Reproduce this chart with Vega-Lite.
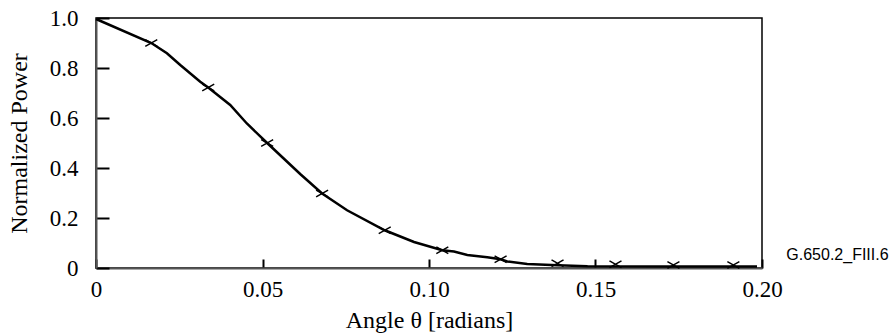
{
  "$schema": "https://vega.github.io/schema/vega-lite/v6.json",
  "width": 666,
  "height": 250,
  "autosize": {"type": "none"},
  "padding": {"left": 96, "top": 18, "right": 127, "bottom": 65},
  "background": "white",
  "config": {
    "view": {"stroke": "#000", "strokeWidth": 1.5},
    "font": "Liberation Serif"
  },
  "datasets": {
    "curve": [
      {"angle": 0, "power": 0.996},
      {"angle": 0.0166, "power": 0.90},
      {"angle": 0.0213, "power": 0.859},
      {"angle": 0.0253, "power": 0.812},
      {"angle": 0.0313, "power": 0.745},
      {"angle": 0.0337, "power": 0.722},
      {"angle": 0.0403, "power": 0.652},
      {"angle": 0.0453, "power": 0.578},
      {"angle": 0.0514, "power": 0.50},
      {"angle": 0.0614, "power": 0.375},
      {"angle": 0.0679, "power": 0.298},
      {"angle": 0.0754, "power": 0.231},
      {"angle": 0.0867, "power": 0.151},
      {"angle": 0.0955, "power": 0.104},
      {"angle": 0.104, "power": 0.071},
      {"angle": 0.1075, "power": 0.066},
      {"angle": 0.1115, "power": 0.052},
      {"angle": 0.1175, "power": 0.043},
      {"angle": 0.1215, "power": 0.035},
      {"angle": 0.1235, "power": 0.026},
      {"angle": 0.1295, "power": 0.016},
      {"angle": 0.1386, "power": 0.011},
      {"angle": 0.1476, "power": 0.007},
      {"angle": 0.17, "power": 0.006},
      {"angle": 0.1985, "power": 0.006}
    ],
    "markers": [
      {"angle": 0.0166, "power": 0.90},
      {"angle": 0.0337, "power": 0.722},
      {"angle": 0.0514, "power": 0.50},
      {"angle": 0.0679, "power": 0.298},
      {"angle": 0.0867, "power": 0.151},
      {"angle": 0.104, "power": 0.071},
      {"angle": 0.1215, "power": 0.035},
      {"angle": 0.1386, "power": 0.019},
      {"angle": 0.156, "power": 0.015},
      {"angle": 0.1734, "power": 0.012},
      {"angle": 0.1914, "power": 0.012}
    ],
    "note": [
      {"angle": 0.2073, "power": 0.051, "label": "G.650.2_FIII.6"}
    ]
  },
  "encoding": {
    "x": {
      "field": "angle",
      "type": "quantitative",
      "scale": {"domain": [0, 0.2], "nice": false, "zero": false},
      "axis": {
        "orient": "bottom",
        "values": [0, 0.05, 0.1, 0.15, 0.2],
        "labelExpr": "datum.value == 0 ? '0' : format(datum.value, '.2f')",
        "grid": false,
        "domainColor": "#555",
        "domainWidth": 2,
        "tickColor": "#000",
        "tickWidth": 2,
        "tickSize": -9,
        "labelFont": "Liberation Serif",
        "labelFontSize": 23,
        "labelColor": "#000",
        "labelPadding": 19,
        "labelFlush": false,
        "title": "Angle θ [radians]",
        "titleFont": "Liberation Serif",
        "titleFontSize": 24,
        "titleFontWeight": "normal",
        "titleColor": "#000",
        "titlePadding": 7
      }
    },
    "y": {
      "field": "power",
      "type": "quantitative",
      "scale": {"domain": [0, 1], "nice": false},
      "axis": {
        "values": [0, 0.2, 0.4, 0.6, 0.8, 1.0],
        "labelExpr": "datum.value == 0 ? '0' : format(datum.value, '.1f')",
        "grid": false,
        "domainColor": "#555",
        "domainWidth": 2,
        "tickColor": "#000",
        "tickWidth": 2,
        "tickSize": -13,
        "labelFont": "Liberation Serif",
        "labelFontSize": 23,
        "labelColor": "#000",
        "labelPadding": 31,
        "labelFlush": false,
        "title": "Normalized Power",
        "titleFont": "Liberation Serif",
        "titleFontSize": 24,
        "titleFontWeight": "normal",
        "titleColor": "#000",
        "titlePadding": 18
      }
    }
  },
  "layer": [
    {
      "data": {"name": "curve"},
      "mark": {"type": "line", "color": "#000", "strokeWidth": 2.5, "interpolate": "linear"}
    },
    {
      "data": {"name": "markers"},
      "mark": {
        "type": "point",
        "shape": "M-1,-0.55L1,0.55M-1,0.55L1,-0.55",
        "size": 144,
        "filled": false,
        "stroke": "#000",
        "strokeWidth": 1.5,
        "opacity": 1
      }
    },
    {
      "data": {"name": "note"},
      "mark": {
        "type": "text",
        "font": "Liberation Sans",
        "fontSize": 16,
        "align": "left",
        "baseline": "middle",
        "color": "#000",
        "clip": false
      },
      "encoding": {"text": {"field": "label"}}
    }
  ]
}
